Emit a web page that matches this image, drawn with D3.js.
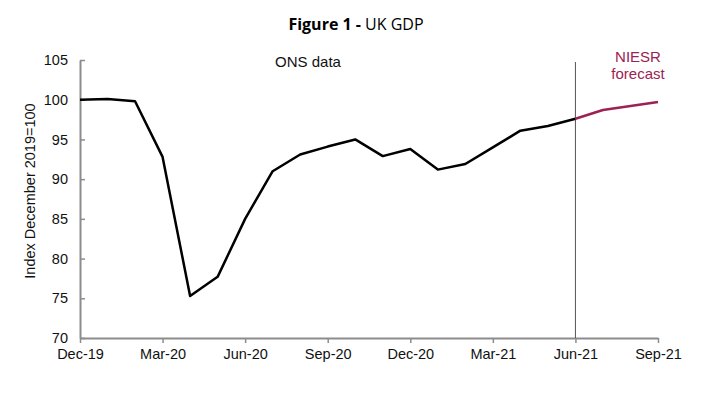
<!DOCTYPE html>
<html><head><meta charset="utf-8">
<script src="https://cdn.jsdelivr.net/npm/d3@7"></script>
<style>body{margin:0;background:#fff}svg{display:block}</style>
</head><body>
<svg id="c" width="716" height="399"></svg>
<script>
const months = ["Dec-19","Jan-20","Feb-20","Mar-20","Apr-20","May-20","Jun-20","Jul-20","Aug-20","Sep-20","Oct-20","Nov-20","Dec-20","Jan-21","Feb-21","Mar-21","Apr-21","May-21","Jun-21","Jul-21","Aug-21","Sep-21"];
const onsValues = [100.0,100.1,99.8,92.8,75.3,77.7,85.0,91.0,93.1,94.1,95.0,92.9,93.8,91.2,91.9,94.0,96.1,96.7,97.6];
const forecastValues = [97.6,98.7,99.2,99.7];
const forecastStart = 18;
const xTickLabels = ["Dec-19","Mar-20","Jun-20","Sep-20","Dec-20","Mar-21","Jun-21","Sep-21"];
const yTicks = [70,75,80,85,90,95,100,105];

const svg = d3.select("#c");
const x = d3.scalePoint().domain(months).range([80, 658]);
const y = d3.scaleLinear().domain([70,105]).range([338, 60]);
const axisColor = "#8c8c8c";
const tickFont = "Liberation Sans, Arial, sans-serif";

// title
const t = svg.append("text").attr("x",356).attr("y",30).attr("text-anchor","middle")
  .attr("font-family","Open Sans, sans-serif").attr("font-size",16).attr("fill","#000");
t.append("tspan").attr("font-weight","bold").text("Figure 1 - ");
t.append("tspan").text("UK GDP");

// y axis
const ya = svg.append("g").attr("transform","translate(80,0)")
  .call(d3.axisLeft(y).tickValues(yTicks).tickSizeInner(-5).tickSizeOuter(0).tickPadding(12));
ya.select(".domain").attr("stroke",axisColor).attr("stroke-width",2);
ya.selectAll(".tick line").attr("stroke",axisColor).attr("stroke-width",1.5);
ya.selectAll(".tick text").attr("font-family",tickFont).attr("font-size",14.5).attr("fill","#111");

// x axis
const xa = svg.append("g").attr("transform","translate(0,338)")
  .call(d3.axisBottom(x).tickValues(xTickLabels).tickSizeInner(5).tickSizeOuter(0).tickPadding(6));
xa.select(".domain").attr("stroke",axisColor).attr("stroke-width",2);
xa.selectAll(".tick line").attr("stroke",axisColor).attr("stroke-width",1.5);
xa.selectAll(".tick text").attr("font-family",tickFont).attr("font-size",14.5).attr("fill","#111");

// y label
svg.append("text").attr("transform","translate(35,191) rotate(-90)").attr("text-anchor","middle")
  .attr("font-family",tickFont).attr("font-size",14.5).attr("fill","#111")
  .text("Index December 2019=100");

// vertical separator
svg.append("line").attr("x1",x("Jun-21")).attr("x2",x("Jun-21")).attr("y1",62).attr("y2",338)
  .attr("stroke","#555").attr("stroke-width",1);

const line = d3.line().x(d=>x(d[0])).y(d=>y(d[1]));
svg.append("path").datum(onsValues.map((v,i)=>[months[i],v]))
  .attr("d",line).attr("fill","none").attr("stroke","#000").attr("stroke-width",2.5).attr("stroke-linejoin","round");
svg.append("path").datum(forecastValues.map((v,i)=>[months[forecastStart+i],v]))
  .attr("d",line).attr("fill","none").attr("stroke","#9b2253").attr("stroke-width",2.5).attr("stroke-linejoin","round");

// annotations
svg.append("text").attr("x",308).attr("y",67).attr("text-anchor","middle")
  .attr("font-family",tickFont).attr("font-size",15).attr("fill","#111").text("ONS data");
svg.append("text").attr("x",638).attr("y",62).attr("text-anchor","middle")
  .attr("font-family",tickFont).attr("font-size",15).attr("fill","#9b2253").text("NIESR");
svg.append("text").attr("x",638).attr("y",79).attr("text-anchor","middle")
  .attr("font-family",tickFont).attr("font-size",15).attr("fill","#9b2253").text("forecast");
</script>
</body></html>
